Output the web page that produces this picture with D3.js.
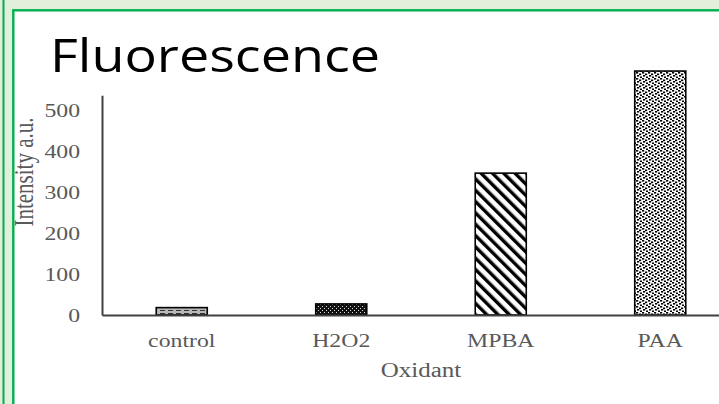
<!DOCTYPE html>
<html>
<head>
<meta charset="utf-8">
<script src="https://cdn.jsdelivr.net/npm/d3@7"></script>
<style>
  html, body { margin: 0; padding: 0; background: #e2efda; }
  svg { display: block; }
  .lbl { font-family: "Liberation Serif", "Times New Roman", serif; fill: #595959; }
</style>
</head>
<body>
<svg class="chart" width="719" height="404"></svg>
<script>
// chart data
const categories = ['control', 'H2O2', 'MPBA', 'PAA'];
const values = [18, 27, 346, 595];
const yTicks = [0, 100, 200, 300, 400, 500];
const title = 'Fluorescence';
const xTitle = 'Oxidant';
const yTitle = 'Intensity a.u.';

const fills = ['url(#p-control)', 'url(#p-h2o2)', 'url(#p-mpba)', 'url(#p-paa)'];
const stretch = 1.25; // text in the picture is widened horizontally

const svg = d3.select('svg.chart');
const defs = svg.append('defs');

// --- patterns
let p = defs.append('pattern').attr('id', 'p-control')
  .attr('patternUnits', 'userSpaceOnUse').attr('width', 8).attr('height', 3);
p.append('rect').attr('width', 8).attr('height', 3).attr('fill', '#b8b8b8');
p.append('rect').attr('y', 1).attr('width', 5).attr('height', 1).attr('fill', '#333');

p = defs.append('pattern').attr('id', 'p-h2o2')
  .attr('patternUnits', 'userSpaceOnUse').attr('width', 4).attr('height', 4);
p.append('rect').attr('width', 4).attr('height', 4).attr('fill', '#111');
p.append('rect').attr('x', 0).attr('y', 0).attr('width', 1).attr('height', 1).attr('fill', '#ddd');
p.append('rect').attr('x', 2).attr('y', 2).attr('width', 1).attr('height', 1).attr('fill', '#ddd');

// wide downward diagonal
p = defs.append('pattern').attr('id', 'p-mpba')
  .attr('patternUnits', 'userSpaceOnUse').attr('width', 8).attr('height', 8)
  .attr('patternTransform', 'rotate(-45)');
p.append('rect').attr('width', 8).attr('height', 8).attr('fill', '#fff');
p.append('rect').attr('width', 3.4).attr('height', 8).attr('fill', '#000');

// confetti dots
p = defs.append('pattern').attr('id', 'p-paa')
  .attr('patternUnits', 'userSpaceOnUse').attr('width', 6).attr('height', 6);
p.append('rect').attr('width', 6).attr('height', 6).attr('fill', '#fff');
[[0, 0], [3, 1.5], [1, 3], [4, 4.5]].forEach(([x, y]) => {
  p.append('rect').attr('x', x).attr('y', y).attr('width', 2.2).attr('height', 1.6).attr('fill', '#000');
});

// --- frame
svg.append('rect').attr('x', 0).attr('y', 0).attr('width', 719).attr('height', 404).attr('fill', '#e2efda');
svg.append('line').attr('x1', 3.5).attr('x2', 3.5).attr('y1', 0).attr('y2', 404)
  .attr('stroke', '#00b050').attr('stroke-width', 2);
svg.append('rect').attr('x', 13.3).attr('y', 10.3).attr('width', 720).attr('height', 400)
  .attr('fill', '#fff').attr('stroke', '#00b050').attr('stroke-width', 2.4);

// --- title
svg.append('text')
  .attr('x', 50).attr('y', 72)
  .attr('font-family', '"Open Sans", sans-serif')
  .attr('font-size', 45)
  .attr('fill', '#000')
  .attr('textLength', 330)
  .attr('lengthAdjust', 'spacingAndGlyphs')
  .text(title);

// --- scales
const x0 = 102, x1 = 740, yBase = 315;
const yScale = d3.scaleLinear().domain([0, 500]).range([yBase, 110]);
const axisTop = 536;

const xScale = d3.scaleBand()
  .domain(categories)
  .range([x0, x1])
  .paddingInner(0.68)
  .paddingOuter(0.34);

const chart = svg.append('g');

// bars
chart.selectAll('rect.bar')
  .data(values)
  .enter()
  .append('rect')
  .attr('class', 'bar')
  .attr('x', (d, i) => xScale(categories[i]))
  .attr('y', (d) => yScale(d))
  .attr('width', xScale.bandwidth())
  .attr('height', (d) => yScale(0) - yScale(d))
  .attr('fill', (d, i) => fills[i])
  .attr('stroke', '#000')
  .attr('stroke-width', 1.6);

// y axis
const yAxisScale = yScale.copy().domain([0, axisTop]).range([yScale(0), yScale(axisTop)]);
const yAxis = chart.append('g')
  .attr('transform', `translate(${x0}, 0)`)
  .call(d3.axisLeft(yAxisScale).tickValues(yTicks).tickSize(0).tickSizeOuter(0));
yAxis.select('.domain').attr('stroke', '#404040').attr('stroke-width', 2);
yAxis.selectAll('text')
  .attr('class', 'lbl')
  .attr('font-size', 19)
  .attr('x', -22 / stretch)
  .attr('dy', '0.35em')
  .attr('transform', `scale(${stretch},1)`);

// x axis
const xAxis = chart.append('g')
  .attr('transform', `translate(0, ${yBase})`)
  .call(d3.axisBottom(xScale).tickSize(0).tickSizeOuter(0));
xAxis.select('.domain').attr('stroke', '#404040').attr('stroke-width', 2);
xAxis.selectAll('.tick').each(function () {
  const t = d3.select(this);
  const tr = t.attr('transform');
  t.attr('transform', tr + ` scale(${stretch},1)`);
});
xAxis.selectAll('text')
  .attr('class', 'lbl')
  .attr('font-size', 19)
  .attr('y', 32)
  .attr('dy', 0);

// axis titles
svg.append('text')
  .attr('class', 'lbl')
  .attr('font-size', 20)
  .attr('text-anchor', 'middle')
  .attr('transform', `translate(${(x0 + x1) / 2}, 377) scale(${stretch},1)`)
  .text(xTitle);

svg.append('text')
  .attr('class', 'lbl')
  .attr('font-size', 21)
  .attr('text-anchor', 'middle')
  .attr('transform', `translate(33, 172) scale(${stretch},1) rotate(-90)`)
  .text(yTitle);
</script>
</body>
</html>
